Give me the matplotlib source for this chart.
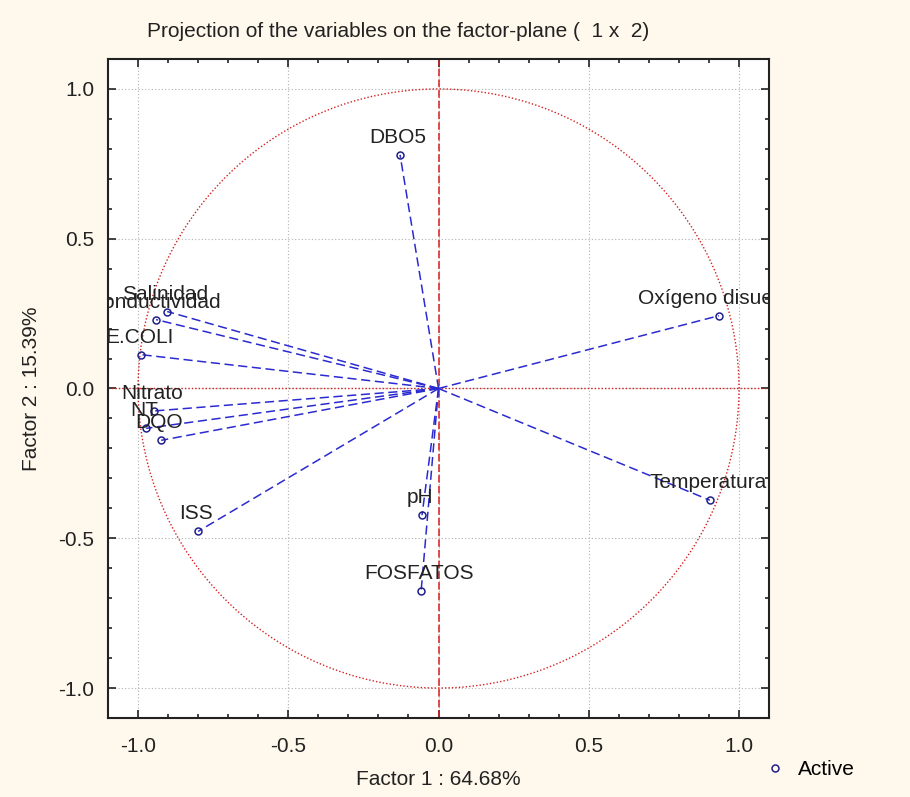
import numpy as np
import matplotlib.pyplot as plt
from matplotlib.ticker import MultipleLocator
from matplotlib.lines import Line2D

# factor loadings of each variable on the first two factors
variables = ["DBO5", "Oxígeno disuelto", "Temperatura", "pH", "FOSFATOS", "ISS",
             "Salinidad", "Conductividad", "E.COLI", "Nitrato", "NT", "DQO"]
factor1 = [-0.128, 0.933, 0.903, -0.055, -0.058, -0.800,
           -0.903, -0.940, -0.990, -0.947, -0.973, -0.923]
factor2 = [0.780, 0.243, -0.373, -0.423, -0.677, -0.477,
           0.257, 0.230, 0.113, -0.075, -0.133, -0.173]

title = "Projection of the variables on the factor-plane (  1 x  2)"
xlabel = "Factor 1 : 64.68%"
ylabel = "Factor 2 : 15.39%"

BG = "#fff8ec"
VEC = "#2a2ad0"
MARK = "#20208a"
RED = "#d42020"
INK = "#222222"

plt.rcParams["font.family"] = ["Liberation Sans", "DejaVu Sans"]

fig = plt.figure(figsize=(9.1, 7.97), dpi=100, facecolor=BG)
ax = fig.add_axes([0.1187, 0.0991, 0.7264, 0.8269])
ax.set_facecolor("white")

# unit circle and the axes through the origin
t = np.linspace(0, 2 * np.pi, 400)
ax.plot(np.cos(t), np.sin(t), color=RED, lw=1, ls=(0, (1, 1.5)), zorder=2)
ax.axvline(0, color=RED, lw=1.1, ls=(0, (5, 2)), zorder=2)
ax.axhline(0, color=RED, lw=1, ls=(0, (1, 1.5)), zorder=2)

# loading vectors
for x, y in zip(factor1, factor2):
    ax.plot([0, x], [0, y], color=VEC, lw=1.1, ls=(0, (6, 3)), zorder=3)
ax.plot(factor1, factor2, ls="none", marker="o", ms=5, mfc="none",
        mec=MARK, mew=1.1, zorder=4)

for name, x, y in zip(variables, factor1, factor2):
    ax.annotate(name, (x, y), xytext=(-2, 8), textcoords="offset pixels",
                ha="center", va="bottom", fontsize=15, color=INK,
                annotation_clip=False, clip_on=True, zorder=5)

ax.set_xlim(-1.1, 1.1)
ax.set_ylim(-1.1, 1.1)
ax.xaxis.set_major_locator(MultipleLocator(0.5))
ax.yaxis.set_major_locator(MultipleLocator(0.5))
ax.xaxis.set_minor_locator(MultipleLocator(0.1))
ax.yaxis.set_minor_locator(MultipleLocator(0.1))
ax.xaxis.set_major_formatter(lambda v, p: f"{v:.1f}")
ax.yaxis.set_major_formatter(lambda v, p: f"{v:.1f}")
ax.tick_params(which="both", direction="in", top=True, right=True,
               labelsize=15, colors=INK, width=1.2)
ax.tick_params(which="major", length=6)
ax.tick_params(axis="x", which="major", pad=14)
ax.tick_params(axis="y", which="major", pad=10)
ax.tick_params(which="minor", length=3)
ax.grid(which="major", color="#b0b0b0", ls=(0, (1, 2)), lw=0.8)
for s in ax.spines.values():
    s.set_linewidth(1.5)
    s.set_color(INK)

fig.text(0.437, 0.960, title, ha="center", va="center", fontsize=15, color=INK)
ax.set_xlabel(xlabel, fontsize=15, color=INK, labelpad=10)
ax.set_ylabel(ylabel, fontsize=15, color=INK, labelpad=12)

handle = Line2D([], [], ls="none", marker="o", ms=5, mfc="none", mec=MARK, mew=1.1)
fig.legend([handle], ["Active"], loc="center left", bbox_to_anchor=(0.82, 0.034),
           frameon=False, fontsize=15, handlelength=1, handletextpad=0.6)

fig.savefig("out.png", dpi=100, facecolor=BG)
